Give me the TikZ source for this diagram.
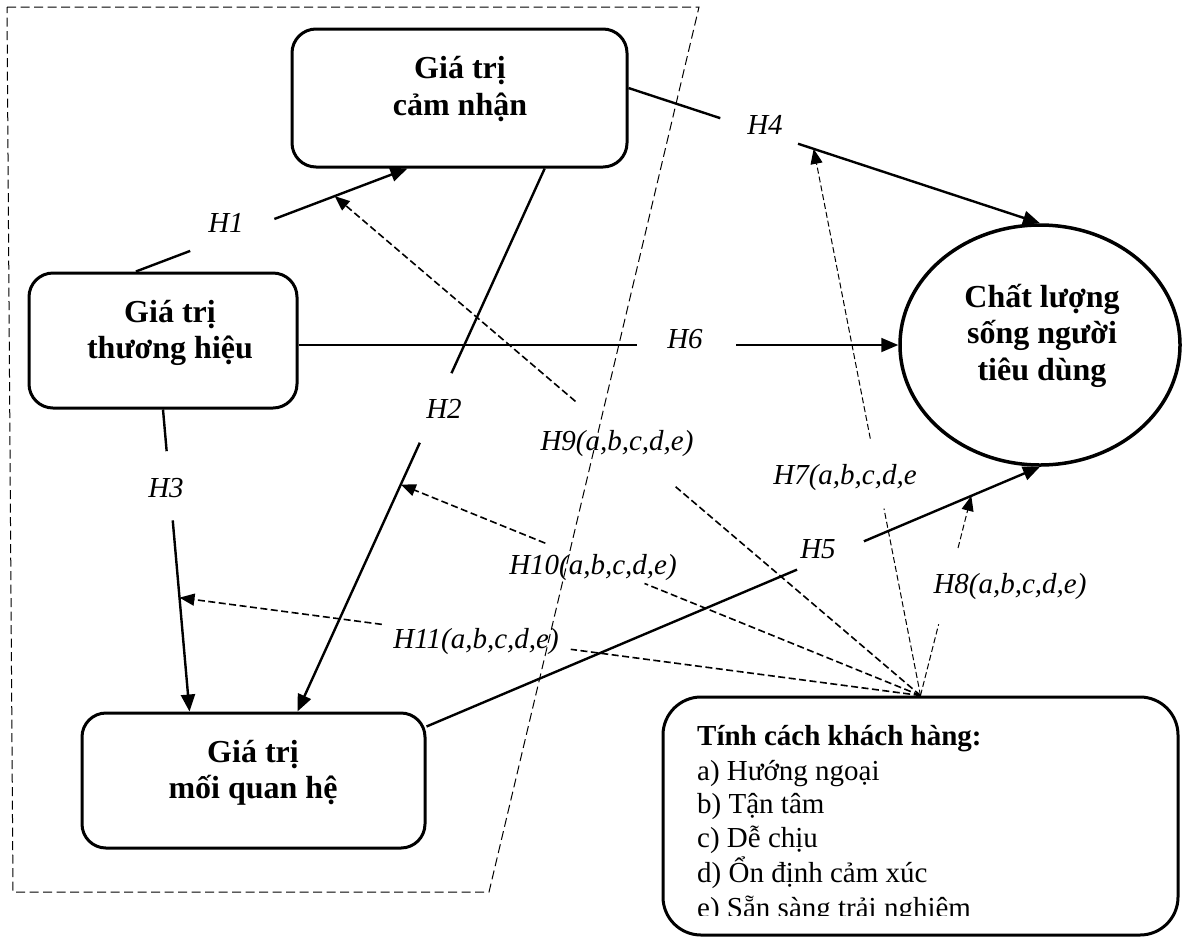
\documentclass[tikz,border=0pt]{standalone}
\usepackage{fontspec}
\setmainfont{Liberation Serif}
\usetikzlibrary{arrows.meta,calc,shapes.geometric}

\tikzset{
  box/.style={draw, line width=3pt, rounded corners=24pt, inner sep=0pt},
  boxtxt/.style={anchor=base, inner sep=0pt, font=\fontsize{32}{37}\selectfont\bfseries},
  hlab/.style={anchor=base, inner sep=0pt, font=\fontsize{29}{33}\selectfont\itshape},
  dhead/.style={anchor=base west, inner sep=0pt, font=\fontsize{29}{34}\selectfont\bfseries},
  ditem/.style={anchor=base west, inner sep=0pt, font=\fontsize{29}{34}\selectfont},
  conn/.style={line width=2.4pt},
  modline/.style={line width=1.6pt, dash pattern=on 7pt off 3.5pt},
  modthin/.style={line width=1pt, dash pattern=on 6pt off 3pt},
  tipbig/.style={-{Triangle[length=17pt,width=14pt]}},
  tipsm/.style={-{Triangle[length=15pt,width=12pt]}},
  frame/.style={line width=1pt, dash pattern=on 9pt off 4.5pt},
}

% connector with a gap for its label: style, tip, from, to, gap start, gap end
\newcommand\gapconn[6]{%
  \path (#3) -- (#4) coordinate[pos=#5] (#3-#4-a) coordinate[pos=#6] (#3-#4-b);
  \draw[#1] (#3) -- (#3-#4-a);
  \draw[#1,#2] (#3-#4-b) -- (#4);
}

\begin{document}
\begin{tikzpicture}[x=1pt,y=-1pt]
\useasboundingbox (0,0) rectangle (1182,938);

% dashed frame around the three value constructs
\draw[frame] (7,7) -- (699,7) -- (489,892) -- (13,892) -- cycle;

% constructs
\node[box, minimum width=335pt, minimum height=138pt] (A) at (459.5,98) {};
\node[box, minimum width=268pt, minimum height=135pt] (B) at (163,340.5) {};
\node[box, minimum width=343pt, minimum height=135pt] (C) at (253.5,780.5) {};
\node[box, rounded corners=38pt, minimum width=515pt, minimum height=238pt] (D) at (920.5,816) {};
\node[draw, ellipse, line width=3.5pt, minimum width=280pt, minimum height=240pt, inner sep=0pt] (Q) at (1040,345) {};

\node[boxtxt] (A1) at (460,78) {Giá trị};
\node[boxtxt] (A2) at (460,115) {cảm nhận};
\node[boxtxt] (B1) at (170,322) {Giá trị};
\node[boxtxt] (B2) at (170,358) {thương hiệu};
\node[boxtxt] (C1) at (253,762) {Giá trị};
\node[boxtxt] (C2) at (253,798) {mối quan hệ};
\node[boxtxt] (Q1) at (1042,307) {Chất lượng};
\node[boxtxt] (Q2) at (1042,343) {sống người};
\node[boxtxt] (Q3) at (1042,380) {tiêu dùng};

\begin{scope}
  \clip (D.north west) rectangle ($(D.south east)+(0,-21)$);
  \node[dhead] (d0) at (697,745) {Tính cách khách hàng:};
  \node[ditem] (d1) at (697,780) {a) Hướng ngoại};
  \node[ditem] (d2) at (697,813) {b) Tận tâm};
  \node[ditem] (d3) at (697,847) {c) Dễ chịu};
  \node[ditem] (d4) at (697,882) {d) Ổn định cảm xúc};
  \node[ditem] (d5) at (697,917) {e) Sẵn sàng trải nghiêm};
\end{scope}

% connection points
\coordinate (h1s) at ($(B.north west)!0.40!(B.north east)$);
\coordinate (h1e) at ($(A.south west)!0.346!(A.south east)$);
\coordinate (h2s) at ($(A.south west)!0.752!(A.south east)$);
\coordinate (h2e) at ($(C.north west)!0.627!(C.north east)$);
\coordinate (h3s) at (B.south);
\coordinate (h3e) at ($(C.north west)!0.315!(C.north east)$);
\coordinate (h4s) at ($(A.east)+(0,-10)$);
\coordinate (h4e) at (Q.north);
\coordinate (h5s) at ($(C.north east)+(0,15)$);
\coordinate (h5e) at (Q.south);
\coordinate (h6s) at (B.east |- Q.west);
\coordinate (h6e) at (Q.west);
\coordinate (P) at (D.north);

% direct effects
\gapconn{conn}{tipbig}{h1s}{h1e}{0.20}{0.51}
\gapconn{conn}{tipbig}{h2s}{h2e}{0.377}{0.505}
\gapconn{conn}{tipbig}{h3s}{h3e}{0.138}{0.367}
\gapconn{conn}{tipbig}{h4s}{h4e}{0.223}{0.412}
\gapconn{conn}{tipbig}{h5s}{h5e}{0.604}{0.713}
\gapconn{conn,line width=1.8pt}{tipbig}{h6s}{h6e}{0.564}{0.730}

% moderating effects of personality
\path (h4s) -- (h4e) coordinate[pos=0.45] (h7e);
\path (h5s) -- (h5e) coordinate[pos=0.888] (h8e);
\path (h1s) -- (h1e) coordinate[pos=0.732] (h9e);
\path (h2s) -- (h2e) coordinate[pos=0.582] (h10e);
\path (h3s) -- (h3e) coordinate[pos=0.623] (h11e);

\gapconn{modthin}{tipsm}{P}{h7e}{0.342}{0.470}
\gapconn{modthin}{tipsm}{P}{h8e}{0.357}{0.739}
\gapconn{modline}{tipsm}{P}{h9e}{0.418}{0.589}
\gapconn{modline}{tipsm}{P}{h10e}{0.531}{0.722}
\gapconn{modline}{tipsm}{P}{h11e}{0.472}{0.727}

% hypothesis labels
\node[hlab] (l1) at (226,232) {H1};
\node[hlab] (l2) at (444,418) {H2};
\node[hlab] (l3) at (166,497) {H3};
\node[hlab] (l4) at (765,134) {H4};
\node[hlab] (l5) at (818,558) {H5};
\node[hlab] (l6) at (685,348) {H6};
\node[hlab] (l7) at (845,484) {H7(a,b,c,d,e};
\node[hlab] (l8) at (1010,593) {H8(a,b,c,d,e)};
\node[hlab] (l9) at (617,450) {H9(a,b,c,d,e)};
\node[hlab] (l10) at (593,574) {H10(a,b,c,d,e)};
\node[hlab] (l11) at (476,648) {H11(a,b,c,d,e)};
\end{tikzpicture}
\end{document}
